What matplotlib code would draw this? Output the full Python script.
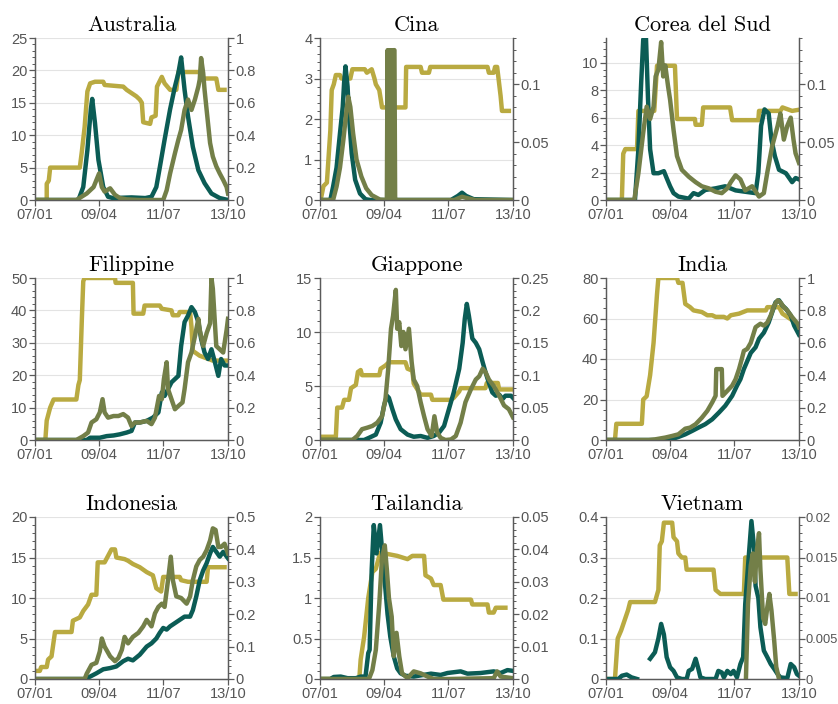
import numpy as np
import matplotlib
matplotlib.use("Agg")
import matplotlib.pyplot as plt
from matplotlib.ticker import AutoMinorLocator, FuncFormatter

# x = days since 07/01; teal and olive on the left axis, yellow on the right axis
date_ticks = [0, 93, 186, 280]
date_labels = ['07/01', '09/04', '11/07', '13/10']

titles = ['Australia', 'Cina', 'Corea del Sud', 'Filippine', 'Giappone', 'India',
          'Indonesia', 'Tailandia', 'Vietnam']

# --- Australia
aus_teal_x = [0, 63, 70, 76, 81, 83, 87, 92, 99, 106, 113, 140, 160, 169, 176, 181, 188, 196, 203, 208, 212, 217, 222, 229, 237, 246, 256, 268, 280]
aus_teal_y = [0, 0, 2.0, 7.7, 14.0, 15.6, 11.9, 6.2, 2.0, 0.5, 0.3, 0.4, 0.3, 0.5, 2.0, 5.0, 9.3, 14.0, 17.5, 19.6, 22.0, 17.0, 12.9, 8.2, 4.6, 2.6, 1.0, 0.3, 0.0]
aus_olive_x = [0, 60, 75, 85, 93, 97, 101, 109, 116, 123, 133, 152, 186, 191, 196, 203, 208, 212, 217, 222, 227, 232, 237, 239, 241, 244, 246, 249, 254, 258, 263, 268, 273, 278, 280]
aus_olive_y = [0, 0, 1.0, 2.0, 4.1, 2.0, 1.3, 1.8, 0.8, 0.3, 0.1, 0, 0, 1.5, 4.1, 7.2, 9.3, 10.8, 13.9, 15.5, 13.9, 15.5, 17.5, 18.6, 21.9, 19.6, 17.0, 13.9, 8.8, 6.7, 5.2, 4.1, 3.1, 2.0, 1.0]
aus_yel_x = [0, 17, 17, 20, 22, 65, 68, 72, 76, 80, 87, 99, 101, 128, 133, 140, 147, 152, 155, 157, 167, 169, 175, 177, 184, 188, 196, 205, 208, 239, 241, 263, 266, 275]
aus_yel_y = [0, 0, 0.1, 0.12, 0.2, 0.2, 0.3, 0.45, 0.67, 0.72, 0.73, 0.73, 0.71, 0.70, 0.68, 0.66, 0.64, 0.62, 0.60, 0.48, 0.47, 0.51, 0.52, 0.70, 0.76, 0.72, 0.68, 0.68, 0.79, 0.79, 0.75, 0.75, 0.68, 0.68]

# --- Cina
chn_teal_x = [0, 15, 19, 24, 29, 33, 35, 37, 40, 42, 46, 51, 58, 66, 73, 190, 200, 206, 212, 223, 280]
chn_teal_y = [0, 0, 0.33, 0.8, 1.65, 2.3, 2.9, 3.3, 2.8, 2.1, 1.15, 0.5, 0.16, 0.02, 0, 0, 0.1, 0.18, 0.1, 0.02, 0]
chn_olive_x = [0, 19, 24, 29, 34, 39, 41, 44, 48, 53, 60, 67, 75, 87, 97, 98, 99.5, 101, 102.5, 104, 105.5, 107, 108, 109, 110, 195, 206, 215, 225, 280]
chn_olive_y = [0, 0, 0.33, 0.8, 1.5, 2.3, 2.55, 2.3, 1.65, 1.0, 0.58, 0.29, 0.12, 0.01, 0, 3.7, 0, 3.7, 0, 3.7, 0, 3.7, 3.7, 0, 0, 0, 0.08, 0.04, 0, 0]
chn_yel_x = [0, 2, 5, 10, 15, 17, 20, 23, 29, 31, 44, 47, 65, 68, 75, 79, 81, 86, 90, 124, 125, 146, 148, 158, 160, 243, 245, 252, 254, 257, 260, 262, 264, 274]
chn_yel_y = [0, 0.003, 0.012, 0.015, 0.06, 0.095, 0.1, 0.108, 0.108, 0.105, 0.105, 0.113, 0.113, 0.11, 0.113, 0.105, 0.1, 0.095, 0.08, 0.08, 0.115, 0.115, 0.11, 0.11, 0.115, 0.115, 0.11, 0.11, 0.115, 0.115, 0.1, 0.09, 0.077, 0.077]

# --- Corea del Sud
kor_teal_x = [0, 42, 47, 51, 54, 58, 61, 64, 69, 76, 84, 88, 93, 98, 105, 120, 127, 134, 144, 159, 173, 188, 202, 217, 221, 225, 230, 236, 240, 245, 251, 261, 270, 275, 280]
kor_teal_y = [0, 0, 3.7, 8.5, 11.7, 11.8, 7.3, 3.7, 1.95, 1.95, 2.1, 1.6, 1.0, 0.5, 0.25, 0.1, 0.5, 0.37, 0.73, 0.85, 1.0, 0.7, 0.6, 0.5, 2.0, 5.4, 6.6, 6.3, 4.4, 3.2, 2.2, 1.95, 1.3, 1.6, 1.5]
kor_olive_x = [0, 41, 47, 54, 59, 64, 69, 72, 76, 80, 83, 86, 90, 93, 98, 103, 110, 120, 130, 139, 149, 159, 168, 176, 181, 188, 195, 202, 212, 222, 229, 234, 241, 249, 253, 258, 263, 268, 272, 275, 280]
kor_olive_y = [0, 0, 1.95, 4.9, 6.8, 5.9, 6.8, 9.0, 9.5, 11.5, 9.0, 9.8, 8.3, 7.3, 5.1, 3.2, 2.2, 1.7, 1.3, 1.0, 0.85, 0.6, 0.5, 0.85, 1.3, 1.8, 1.5, 0.7, 1.0, 0.25, 0.5, 2.0, 3.9, 5.4, 6.3, 4.4, 5.4, 6.0, 4.4, 3.4, 2.7]
kor_yel_x = [0, 23, 25, 28, 45, 47, 70, 74, 100, 103, 129, 130, 139, 141, 180, 183, 221, 222, 253, 256, 270, 280]
kor_yel_y = [0, 0, 0.04, 0.044, 0.044, 0.077, 0.077, 0.116, 0.116, 0.07, 0.07, 0.065, 0.065, 0.08, 0.08, 0.069, 0.069, 0.077, 0.077, 0.08, 0.077, 0.078]

# --- Filippine
phl_teal_x = [0, 75, 80, 94, 104, 114, 123, 133, 140, 145, 152, 162, 171, 179, 184, 188, 193, 198, 203, 208, 212, 217, 222, 227, 232, 237, 241, 246, 251, 256, 261, 266, 270, 275, 280]
phl_teal_y = [0, 0, 0.7, 0.7, 1.2, 1.4, 1.75, 2.3, 2.8, 5.4, 5.4, 5.9, 6.9, 8.5, 14.7, 13.6, 15.7, 17.8, 18.8, 19.8, 29, 36.4, 38.4, 41, 39.5, 36.4, 31.2, 27, 25, 28, 24, 19.8, 25, 23, 23]
phl_olive_x = [0, 60, 70, 77, 82, 89, 94, 98, 101, 106, 114, 121, 128, 135, 140, 145, 152, 162, 169, 174, 180, 184, 187, 191, 193, 198, 203, 208, 214, 217, 222, 227, 232, 237, 239, 244, 249, 254, 256, 258, 263, 268, 273, 278, 280]
phl_olive_y = [0, 0, 1.2, 2.3, 5.4, 6.4, 8.5, 12.6, 8.5, 6.9, 7.4, 7.4, 8.0, 6.9, 4.3, 5.4, 5.4, 5.9, 4.9, 6.9, 13.6, 12.6, 18.8, 24, 15.7, 12.6, 9.5, 10.5, 11.6, 15.7, 24, 27, 32, 37.4, 34, 29, 33, 36, 50, 46.7, 29, 28, 27, 34, 37.4]
phl_yel_x = [0, 15, 17, 22, 27, 60, 63, 65, 68, 70, 72, 116, 117, 142, 143, 157, 159, 181, 184, 198, 200, 208, 210, 225, 227, 229, 239, 258, 280]
phl_yel_y = [0, 0, 0.12, 0.2, 0.25, 0.25, 0.34, 0.37, 0.75, 0.98, 1.0, 1.0, 0.97, 0.97, 0.78, 0.78, 0.83, 0.83, 0.81, 0.8, 0.77, 0.77, 0.79, 0.79, 0.7, 0.55, 0.52, 0.49, 0.49]

# --- Giappone
jpn_teal_x = [0, 64, 71, 81, 88, 93, 97, 100, 105, 110, 117, 127, 136, 146, 156, 165, 173, 180, 187, 194, 202, 207, 210, 213, 216, 221, 226, 231, 236, 240, 245, 250, 255, 260, 265, 269, 277, 280]
jpn_teal_y = [0, 0, 0.2, 0.5, 1.6, 3.2, 4.1, 3.9, 2.85, 1.9, 1.0, 0.5, 0.3, 0.37, 0.2, 0.37, 0.7, 1.3, 2.85, 4.4, 6.6, 9.0, 11.2, 12.6, 11.5, 9.4, 9.0, 8.4, 7.2, 6.3, 5.3, 4.4, 4.1, 4.2, 3.8, 4.1, 4.1, 3.9]
jpn_olive_x = [0, 47, 54, 61, 69, 76, 83, 90, 95, 99, 103, 106, 110, 112, 115, 118, 121, 124, 129, 133, 136, 141, 146, 151, 156, 162, 166, 170, 175, 182, 190, 197, 204, 211, 219, 226, 231, 236, 240, 245, 252, 260, 267, 274, 280]
jpn_olive_y = [0, 0, 0.37, 1.0, 1.15, 1.3, 1.6, 2.2, 3.8, 6.6, 10.3, 11.5, 13.9, 10.3, 10.9, 8.7, 10.0, 8.4, 10.3, 7.2, 5.6, 5.0, 3.5, 2.2, 1.0, 0.37, 2.2, 0.7, 0.2, 0, 0.05, 0.37, 1.6, 3.5, 4.7, 5.6, 5.9, 6.6, 6.3, 5.6, 5.0, 4.1, 3.2, 2.85, 2.1]
jpn_yel_x = [0, 23, 25, 32, 35, 42, 45, 52, 55, 59, 61, 86, 88, 95, 100, 124, 127, 134, 136, 146, 161, 163, 190, 194, 202, 204, 240, 242, 258, 260, 280]
jpn_yel_y = [0.005, 0.005, 0.05, 0.05, 0.062, 0.062, 0.08, 0.085, 0.105, 0.108, 0.1, 0.1, 0.11, 0.115, 0.12, 0.12, 0.11, 0.107, 0.087, 0.07, 0.07, 0.062, 0.062, 0.065, 0.075, 0.08, 0.08, 0.088, 0.088, 0.078, 0.078]

# --- India
ind_teal_x = [0, 91, 98, 105, 115, 125, 134, 144, 154, 164, 173, 183, 190, 195, 200, 205, 210, 217, 222, 229, 236, 241, 246, 251, 256, 261, 268, 273, 280]
ind_teal_y = [0, 0, 0.7, 1.5, 2.8, 4.5, 6.1, 7.8, 10.2, 13.6, 16.9, 21.8, 26.8, 30, 35, 39, 43, 45.8, 50, 53, 58, 63, 68, 69, 66.4, 64.8, 61.5, 56.5, 52]
ind_olive_x = [0, 62, 71, 86, 96, 105, 115, 122, 130, 139, 147, 154, 159, 160, 168, 169, 176, 183, 188, 193, 197, 200, 205, 210, 217, 224, 229, 234, 239, 244, 249, 253, 258, 263, 270, 278, 280]
ind_olive_y = [0, 0, 0.3, 1.2, 2.0, 2.8, 5.6, 6.1, 7.8, 11, 14.4, 18.5, 21.8, 35, 35, 21.8, 24.3, 26.8, 30, 35, 40, 44, 45, 48, 55.7, 57.4, 56.5, 58, 61.5, 66.4, 69, 68, 65.6, 64, 60.7, 57.4, 55.7]
ind_yel_x = [0, 13, 15, 52, 54, 59, 64, 69, 74, 76, 103, 105, 111, 115, 122, 127, 139, 147, 154, 159, 171, 176, 181, 193, 205, 232, 234, 251, 256, 263, 270, 280]
ind_yel_y = [0, 0, 0.1, 0.1, 0.25, 0.27, 0.4, 0.6, 0.9, 1.0, 1.0, 0.97, 0.97, 0.84, 0.82, 0.8, 0.79, 0.77, 0.77, 0.76, 0.76, 0.75, 0.77, 0.78, 0.8, 0.8, 0.82, 0.82, 0.78, 0.76, 0.74, 0.71]

# --- Indonesia
idn_teal_x = [0, 72, 80, 89, 99, 109, 118, 128, 135, 142, 152, 162, 169, 176, 181, 186, 191, 196, 203, 210, 217, 225, 229, 234, 239, 244, 249, 254, 258, 263, 268, 273, 280]
idn_teal_y = [0, 0, 0.3, 0.7, 1.2, 1.35, 1.55, 2.2, 2.5, 2.3, 3.0, 4.0, 4.4, 5.0, 5.7, 6.3, 6.1, 6.5, 6.9, 7.3, 7.7, 7.7, 8.5, 10.2, 12.2, 13.4, 14.3, 15.5, 16.3, 15.7, 15.1, 15.7, 14.9]
idn_olive_x = [0, 72, 75, 82, 89, 94, 97, 101, 109, 116, 121, 126, 130, 135, 142, 150, 157, 162, 169, 174, 179, 184, 188, 193, 197, 200, 205, 212, 220, 225, 229, 234, 239, 244, 249, 254, 258, 262, 266, 270, 275, 280]
idn_olive_y = [0, 0, 0.65, 1.75, 2.0, 3.4, 5.0, 4.0, 2.8, 2.2, 2.6, 3.6, 5.2, 4.4, 5.2, 5.7, 6.5, 7.3, 6.5, 8.1, 8.9, 9.3, 8.9, 12.2, 15.1, 12.2, 10.2, 10.0, 9.3, 10.2, 12.2, 13.9, 14.7, 15.1, 15.9, 17.1, 18.6, 18.4, 16.3, 16.3, 16.7, 15.5]
idn_yel_x = [0, 7, 9, 17, 19, 24, 29, 53, 55, 65, 70, 77, 82, 89, 91, 101, 106, 111, 116, 118, 130, 135, 142, 152, 162, 171, 176, 183, 186, 210, 212, 222, 249, 251, 275]
idn_yel_y = [0.025, 0.025, 0.037, 0.037, 0.06, 0.07, 0.145, 0.145, 0.18, 0.19, 0.21, 0.23, 0.26, 0.26, 0.36, 0.36, 0.38, 0.4, 0.4, 0.375, 0.37, 0.365, 0.355, 0.345, 0.33, 0.32, 0.28, 0.27, 0.315, 0.315, 0.305, 0.3, 0.3, 0.345, 0.345]

# --- Tailandia
tha_teal_x = [0, 15, 20, 30, 40, 52, 59, 66, 70, 72, 75, 78, 82, 87, 90, 94, 98, 102, 107, 112, 117, 124, 136, 161, 175, 185, 204, 214, 233, 252, 262, 272, 280]
tha_teal_y = [0, 0, 0.025, 0.03, 0.01, 0.01, 0.03, 0.03, 0.32, 0.36, 1.35, 1.9, 1.55, 1.9, 1.6, 1.2, 0.8, 0.52, 0.28, 0.13, 0.07, 0.04, 0.03, 0.066, 0.05, 0.074, 0.094, 0.066, 0.074, 0.094, 0.074, 0.11, 0.1]
tha_olive_x = [0, 71, 76, 81, 86, 90, 94, 97, 100, 104, 107, 111, 115, 119, 127, 136, 146, 156, 165, 185, 252, 257, 262, 280]
tha_olive_y = [0, 0, 0.11, 0.36, 0.93, 1.5, 1.65, 1.35, 1.0, 0.77, 0.28, 0.57, 0.28, 0.07, 0.01, 0.094, 0.07, 0.03, 0, 0, 0.01, 0.094, 0.03, 0.01]
tha_yel_x = [0, 57, 59, 64, 70, 76, 81, 86, 88, 112, 127, 134, 151, 153, 161, 165, 175, 179, 219, 221, 243, 245, 252, 255, 269]
tha_yel_y = [0, 0, 0.006, 0.013, 0.025, 0.033, 0.034, 0.038, 0.039, 0.038, 0.037, 0.038, 0.038, 0.032, 0.031, 0.029, 0.029, 0.0245, 0.0245, 0.023, 0.023, 0.0205, 0.0205, 0.022, 0.022]

# --- Vietnam
vnm_teal_x = [0, 18, 23, 30, 37, 45, 46, 64, 71, 76, 80, 84, 88, 93, 98, 103, 110, 117, 120, 125, 130, 134, 137, 144, 159, 163, 168, 171, 176, 181, 185, 190, 195, 199, 202, 207, 211, 215, 217, 221, 224, 229, 234, 239, 244, 249, 253, 263, 268, 273, 277, 280]
vnm_teal_y = [0, 0, 0.008, 0.011, 0.004, 0, np.nan, 0.05, 0.066, 0.1, 0.136, 0.11, 0.054, 0.029, 0.02, 0.004, 0, 0, 0.02, 0.025, 0.05, 0.025, 0.004, 0, 0, 0.02, 0.016, 0.004, 0.02, 0.012, 0.02, 0.004, 0.037, 0.054, 0.185, 0.3, 0.39, 0.32, 0.23, 0.2, 0.128, 0.07, 0.054, 0.037, 0.025, 0.012, 0.004, 0.002, 0.037, 0.029, 0.012, 0.008]
vnm_olive_x = [203, 206, 210, 213, 216, 219, 222, 224, 228, 231, 234, 237, 240, 244, 247, 251]
vnm_olive_y = [0, 0.185, 0.28, 0.31, 0.24, 0.32, 0.36, 0.27, 0.15, 0.136, 0.177, 0.21, 0.17, 0.095, 0.03, 0]
vnm_yel_x = [0, 13, 17, 22, 28, 32, 35, 71, 76, 78, 81, 84, 96, 98, 103, 105, 110, 115, 117, 156, 159, 166, 200, 202, 263, 266, 275]
vnm_yel_y = [0, 0, 0.005, 0.006, 0.0075, 0.0085, 0.0095, 0.0095, 0.011, 0.0165, 0.017, 0.0193, 0.0193, 0.0175, 0.017, 0.0155, 0.015, 0.015, 0.0135, 0.0135, 0.011, 0.0105, 0.0105, 0.015, 0.015, 0.0105, 0.0105]

# axis ranges: (max, tick step) for the left and the right axis of each panel
left_lims = [(25, 5), (4, 1), (11.8, 2), (50, 10), (15, 5), (80, 20), (20, 5), (2, 0.5), (0.4, 0.1)]
right_lims = [(1, 0.2), (0.14, 0.05), (0.14, 0.05), (1, 0.2), (0.25, 0.05), (1, 0.2), (0.5, 0.1), (0.05, 0.01), (0.02, 0.005)]

series = [
    (aus_teal_x, aus_teal_y, aus_olive_x, aus_olive_y, aus_yel_x, aus_yel_y),
    (chn_teal_x, chn_teal_y, chn_olive_x, chn_olive_y, chn_yel_x, chn_yel_y),
    (kor_teal_x, kor_teal_y, kor_olive_x, kor_olive_y, kor_yel_x, kor_yel_y),
    (phl_teal_x, phl_teal_y, phl_olive_x, phl_olive_y, phl_yel_x, phl_yel_y),
    (jpn_teal_x, jpn_teal_y, jpn_olive_x, jpn_olive_y, jpn_yel_x, jpn_yel_y),
    (ind_teal_x, ind_teal_y, ind_olive_x, ind_olive_y, ind_yel_x, ind_yel_y),
    (idn_teal_x, idn_teal_y, idn_olive_x, idn_olive_y, idn_yel_x, idn_yel_y),
    (tha_teal_x, tha_teal_y, tha_olive_x, tha_olive_y, tha_yel_x, tha_yel_y),
    (vnm_teal_x, vnm_teal_y, vnm_olive_x, vnm_olive_y, vnm_yel_x, vnm_yel_y),
]

TEAL = '#0b5c55'
OLIVE = '#737f48'
YELLOW = '#b9aa41'
AXCOL = '#5a5a5a'
GRIDCOL = '#e3e3e3'
LW = 3.2

plt.rcParams['font.family'] = ['Liberation Sans', 'DejaVu Sans']

fig = plt.figure(figsize=(8.38, 7.04), dpi=100)
W, H = 838, 704
col_left = [35, 320, 606]
row_top = [38, 278, 517]
aw, ah = 193, 162

fmt = FuncFormatter(lambda v, p: '%g' % round(v, 6))

for i in range(9):
    r, c = divmod(i, 3)
    ax = fig.add_axes([col_left[c] / W, 1 - (row_top[r] + ah) / H, aw / W, ah / H])
    ax2 = ax.twinx()
    # left-axis lines above the right-axis line
    ax.set_zorder(ax2.get_zorder() + 1)
    ax.patch.set_visible(False)

    lmax, lstep = left_lims[i]
    rmax, rstep = right_lims[i]
    lticks = np.arange(0, lmax + 1e-9, lstep)

    # grid goes on the bottom axes so it stays behind every line
    ax2.grid(True, axis='x', color=GRIDCOL, lw=0.8)
    for t in lticks[1:]:
        ax2.axhline(t / lmax * rmax, color=GRIDCOL, lw=0.8, zorder=0)

    tx, ty, ox, oy, yx, yy = series[i]
    ax2.plot(yx, yy, color=YELLOW, lw=LW, solid_joinstyle='round')
    ax.plot(tx, ty, color=TEAL, lw=LW, solid_joinstyle='round')
    ax.plot(ox, oy, color=OLIVE, lw=LW, solid_joinstyle='round')

    ax.set_xlim(0, 280)
    ax.set_ylim(0, lmax)
    ax2.set_ylim(0, rmax)
    ax.set_yticks(lticks)
    ax2.set_yticks(np.arange(0, rmax + 1e-9, rstep))
    ax.yaxis.set_major_formatter(fmt)
    ax2.yaxis.set_major_formatter(fmt)
    ax.yaxis.set_minor_locator(AutoMinorLocator())
    ax2.yaxis.set_minor_locator(AutoMinorLocator())
    ax.set_xticks(date_ticks)
    ax.set_xticklabels(date_labels)
    ax2.set_axisbelow(True)

    for a in (ax, ax2):
        a.spines['top'].set_visible(False)
        for s in ('left', 'right', 'bottom'):
            a.spines[s].set_color(AXCOL)
            a.spines[s].set_linewidth(0.9)
        a.tick_params(which='major', length=4, width=0.9, color=AXCOL,
                      labelcolor='#555555', labelsize=10.5, pad=1.5)
        a.tick_params(which='minor', length=2, width=0.7, color=AXCOL)

    # the last panel's right labels sit at the figure edge
    if i == 8:
        ax2.tick_params(which='major', labelsize=9.3, pad=1)

    ax.set_title(titles[i], fontfamily='cmr10', fontsize=16, pad=5)

fig.savefig('out.png', dpi=100)
